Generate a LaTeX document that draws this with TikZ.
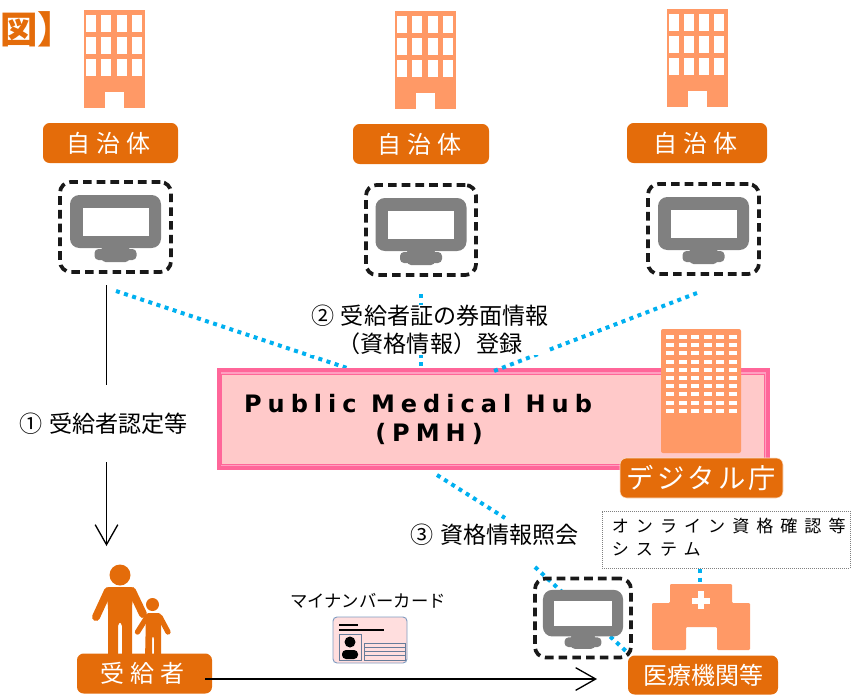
\documentclass[tikz,border=0pt]{standalone}
\usepackage{fontspec}
\setmainfont{Noto Sans CJK JP}
\newfontfamily\latinfont[LetterSpace=25]{DejaVu Sans}
\newfontfamily\spacedfont[LetterSpace=25]{Noto Sans CJK JP}
\newfontfamily\wideboxfont[LetterSpace=12]{Noto Sans CJK JP}
\newfontfamily\sysfont[LetterSpace=41]{Noto Sans CJK JP}
\usetikzlibrary{arrows.meta,positioning}
\definecolor{hdorange}{HTML}{E46C0A}
\definecolor{bldorange}{HTML}{FF9966}
\definecolor{hubpink}{HTML}{FF6699}
\definecolor{hubpale}{HTML}{FF9FBF}
\definecolor{hubfill}{HTML}{FFC9C9}
\definecolor{linkblue}{HTML}{00B0F0}
\definecolor{pcgray}{HTML}{808080}
\definecolor{cardedge}{HTML}{7F9BC0}
\def\px{0.75pt}
\tikzset{
  orangebox/.style={fill=hdorange,draw=none,rounded corners=5pt,text=white,inner sep=0pt,
    minimum height=30pt,align=center},
  pcframe/.style={draw=black!90,line width=2.8pt,dash pattern=on 6.5pt off 3.8pt,rounded corners=8pt,
    inner sep=0pt},
  link/.style={draw=linkblue,line width=3pt,dash pattern=on 3pt off 3.4pt},
  stepline/.style={draw=black,line width=1.2pt},
  arrowline/.style={stepline,-{Straight Barb[length=15pt,width=17pt,line width=1pt]}},
  labeltext/.style={font=\fontsize{17.3}{21}\selectfont,inner sep=0pt,align=center},
  pics/office/.style={code={
    \fill[bldorange] (-30.5,-49) rectangle (30.5,49);
    \foreach \col in {0,...,3}
      \foreach \row in {0,...,2}
        \fill[white] (-28.5+\col*15.3,-44+\row*22) rectangle ++(10,17);
    \fill[white] (-9.5,33) rectangle (9.5,49);
  }},
  pics/pcicon/.style={code={
    \fill[pcgray,rounded corners=7pt] (-45.5,-32) rectangle (45.5,21);
    \fill[white] (-33,-19) rectangle (33,9);
    \fill[pcgray,rounded corners=3pt] (-21,22) rectangle (21,33);
    \fill[pcgray,rounded corners=3pt] (-14,18) rectangle (14,35);
  }},
}
\begin{document}
\begin{tikzpicture}[x=\px,y=-\px]
  \path[clip] (0,0) rectangle (858,694);

  % title fragment
  \node (title) at (38,29.5) [text=hdorange,inner sep=0pt] {\fontsize{28}{28}\selectfont\bfseries 図】};

  % municipalities
  \pic at (114.5,59) {office};
  \pic at (425.5,59.5) {office};
  \pic at (697,57.5) {office};
  \node (city1) at (110.5,143) [orangebox,minimum width=135*\px] {\fontsize{18}{20}\selectfont\spacedfont 自治体\hspace{3pt}};
  \node (city2) at (421,144) [orangebox,minimum width=136*\px] {\fontsize{18}{20}\selectfont\spacedfont 自治体\hspace{3pt}};
  \node (city3) at (697,143) [orangebox,minimum width=140*\px] {\fontsize{18}{20}\selectfont\spacedfont 自治体\hspace{3pt}};

  \node (pc1) at (115.5,227) [pcframe,minimum width=111*\px,minimum height=90*\px] {};
  \node (pc2) at (421,230) [pcframe,minimum width=110*\px,minimum height=90*\px] {};
  \node (pc3) at (703.5,229) [pcframe,minimum width=111*\px,minimum height=90*\px] {};
  \pic at (pc1) {pcicon};
  \pic at (pc2) {pcicon};
  \pic at (pc3) {pcicon};

  % link ends
  \coordinate (c1) at (116,291);
  \coordinate (c2) at (421,294);
  \coordinate (c3) at (697,293);
  \coordinate (h1) at (347,368);
  \coordinate (h2) at (421,368);
  \coordinate (h3) at (494,371);
  \coordinate (h4) at (437,475);
  \coordinate (q1) at (505,518);
  \coordinate (q2) at (535,567);
  \coordinate (q3) at (628,653);
  \draw[link] (c1) -- (h1);
  \draw[link] (c2) -- (h2);
  \draw[link] (h4) -- (q1);
  \draw[link] (q2) -- (q3);

  % hub
  \node (pmh) at (493,418.5) [draw=hubpink,line width=3pt,fill=hubpale,minimum width=549*\px,
    minimum height=98*\px,inner sep=0pt] {};
  \node (pmhin) at (493,419) [draw=hubpink,line width=.7pt,fill=hubfill,minimum width=543*\px,
    minimum height=90*\px,inner sep=0pt] {};
  \node (pmhtxt) at (418,412) [anchor=base,inner sep=0pt,font=\fontsize{18}{22}\selectfont\bfseries]
    {\latinfont Public Medical Hub};
  \node (pmhabbr) at (429,441) [anchor=base,inner sep=0pt,font=\fontsize{18}{22}\selectfont\bfseries]
    {\latinfont (PMH)};
  \draw[link] (c3) -- (h3);

  \node (dbuild) at (701,391) [fill=bldorange,rounded corners=1.5pt,minimum width=80*\px,
    minimum height=124*\px,inner sep=0pt] {};
  \foreach \col in {0,...,5}
    \foreach \row in {0,...,9}
      \fill[white] (666+\col*12.6,335+\row*8.2) rectangle ++(8,4);
  \node (digital) at (701.5,478) [orangebox,minimum width=163*\px,draw=white!80!hdorange,line width=.4pt]
    {\fontsize{20.5}{25}\selectfont\wideboxfont デジタル庁};

  % labels
  \node (step1) at (103.5,424) [labeltext] {①\hspace{1pt} 受給者認定等};
  \node (step2) at (430,330) [labeltext,fill=white] {②\hspace{1pt} 受給者証の券面情報\\（資格情報）登録};
  \node (step3) at (494.5,535) [labeltext] {③\hspace{1pt} 資格情報照会};

  % left arrow
  \coordinate (a1) at (106.5,285);
  \coordinate (a2) at (106.5,385);
  \coordinate (a3) at (106.5,462);
  \coordinate (a4) at (106.5,546);
  \draw[stepline] (a1) -- (a2);
  \draw[arrowline] (a3) -- (a4);

  % system and hospital
  \node (sysbox) at (726,539.5) [draw=black!50,densely dotted,line width=.5pt,fill=white,
    minimum width=248*\px,minimum height=57*\px,inner sep=0pt] {};
  \node (systxt) [right=10*\px of sysbox.west,anchor=west,yshift=2.5*\px,inner sep=0pt,align=left,
    font=\fontsize{12.8}{17}\selectfont] {\sysfont オンライン資格確認等\\\sysfont システム};
  \coordinate (s1) at (700,569);
  \coordinate (s2) at (700,584);
  \draw[link] (s1) -- (s2);

  \node (pc4) at (583,618) [pcframe,minimum width=96*\px,minimum height=79*\px] {};
  \pic[scale=.88] at (pc4) {pcicon};

  \fill[bldorange,rounded corners=.8pt] (670,584) -- (732,584) -- (732,603) -- (750,603) -- (750,650)
    -- (717,650) -- (717,627) -- (686,627) -- (686,650) -- (652,650) -- (652,603) -- (670,603) -- cycle;
  \fill[white] (692,598) rectangle (710,604);
  \fill[white] (698,591) rectangle (704,609);
  \node (clinic) at (703,675) [orangebox,minimum width=150*\px,minimum height=39*\px]
    {\fontsize{18}{22}\selectfont 医療機関等};

  % recipient
  \fill[hdorange] (120,575) circle (10.5);
  \fill[hdorange,rounded corners=3pt] (105,587) -- (135,587) -- (132,605) -- (132,660) -- (122,660) -- (122,622)
    -- (118,622) -- (118,660) -- (108,660) -- (108,605) -- cycle;
  \draw[hdorange,line width=6pt,line cap=round] (108,591) -- (96,617);
  \draw[hdorange,line width=6pt,line cap=round] (132,591) -- (143,614);
  \draw[white,line width=4pt] (145,624) -- (141,633);
  \draw[hdorange,line width=4pt,line cap=round] (147,617) -- (137.5,632);
  \draw[hdorange,line width=4pt,line cap=round] (160,617) -- (168,632);
  \fill[hdorange] (152.5,604.5) circle (6.5);
  \fill[hdorange,rounded corners=2pt] (146,613) -- (161,613) -- (161,660) -- (154,660) -- (154,636)
    -- (152,636) -- (152,660) -- (145,660) -- cycle;
  \node (user) at (144.5,673.5) [orangebox,minimum width=135*\px,minimum height=40*\px]
    {\fontsize{18}{20}\selectfont\spacedfont 受給者\hspace{3pt}};

  % card
  \node (cardlabel) at (368,601) [inner sep=0pt,font=\fontsize{13}{15}\selectfont] {マイナンバーカード};
  \node (card) at (370,640) [draw=cardedge,fill=red!13,line width=.7pt,rounded corners=3pt,
    minimum width=74*\px,minimum height=46*\px,inner sep=0pt] {};
  \draw[line width=1.2pt] (339,625) -- (358,625);
  \draw[line width=1.2pt] (339,630) -- (384,630);
  \draw[draw=cardedge!80!black,line width=.5pt] (339,634) rectangle (361,660);
  \fill[black] (350,642) circle (5.5);
  \fill[black,rounded corners=3pt] (342,659) -- (342,650) -- (358,650) -- (358,659) -- cycle;
  \draw[draw=cardedge!80!black,line width=.7pt] (364,643) rectangle (405,660);
  \foreach \row in {647,651,655}
    \draw[draw=cardedge!80!black,line width=.7pt] (364,\row) -- (405,\row);

  \coordinate (b1) at (205,679);
  \coordinate (b2) at (597,679);
  \draw[arrowline] (b1) -- (b2);
\end{tikzpicture}
\end{document}
